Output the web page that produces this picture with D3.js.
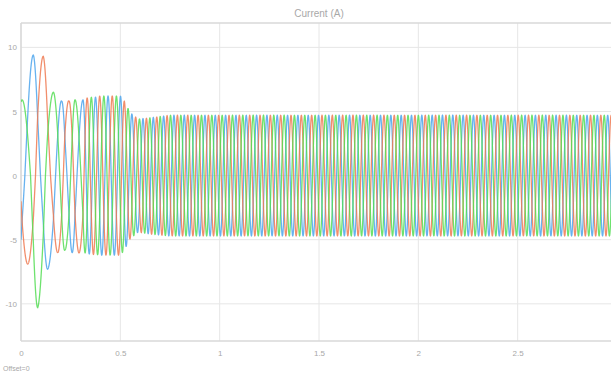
<!DOCTYPE html>
<html><head><meta charset="utf-8">
<script src="https://cdn.jsdelivr.net/npm/d3@7"></script>
<style>
body{margin:0;background:#fff;}
svg{display:block;font-family:"Liberation Sans",Arial,sans-serif;}
</style>
</head><body>
<svg id="chart" width="611" height="376"></svg>
<script>
// ---- data ----
const title = "Current (A)";
const offsetLabel = "Offset=0";
const xGridTicks = [0, 0.5, 1, 1.5, 2, 2.5, 3];
const xTicks = [0, 0.5, 1, 1.5, 2, 2.5];
const xTickLabels = ["0", "0.5", "1", "1.5", "2", "2.5"];
const yTicks = [-10, -5, 0, 5, 10];
const yTickLabels = ["-10", "-5", "0", "5", "10"];
const seriesNames = ["Phase A", "Phase B", "Phase C"];
const seriesColors = ["#4ca4ec", "#ee7a52", "#55dd55"];

// electrical angle of phase A (in cycles, 0 = positive peak) at read times
const phaseTime   = [0, 0.005, 0.034, 0.062, 0.084, 0.112, 0.134, 0.163, 0.185, 0.205, 0.221, 0.242, 0.258, 0.272, 0.312, 0.5, 0.6, 3.0];
const phaseCycles = [-0.37, -0.333, -0.167, 0, 0.167, 0.333, 0.5, 0.667, 0.833, 1, 1.167, 1.333, 1.5, 1.667, 2, 4.98, 6.73, 52.9];

// peak envelopes (A) read at these times
const envTime = [0, 0.005, 0.034, 0.062, 0.084, 0.112, 0.134, 0.163, 0.185, 0.205, 0.221, 0.242, 0.258, 0.272, 0.312, 0.4, 0.5, 0.52, 0.55, 0.59, 0.65, 0.75, 3.0];
const upperA = [9.4, 9.4, 9.4, 9.4, 8.85, 8.14, 7.59, 6.86, 6.3, 5.8, 5.81, 5.83, 5.85, 5.86, 5.9, 6.2, 6.2, 5.8, 4.9, 4.4, 4.5, 4.7, 4.7];
const lowerA = [7.3, 7.3, 7.3, 7.3, 7.3, 7.3, 7.3, 7.0, 6.77, 6.56, 6.39, 6.17, 6.0, 6.0, 6.05, 6.2, 6.2, 5.8, 4.9, 4.4, 4.55, 4.7, 4.7];
const upperB = [9.3, 9.3, 9.3, 9.3, 9.3, 9.3, 8.7, 7.93, 7.34, 6.8, 6.37, 5.8, 5.85, 5.9, 6.0, 6.2, 6.2, 5.8, 4.9, 4.4, 4.5, 4.7, 4.7];
const lowerB = [6.9, 6.9, 6.9, 6.73, 6.6, 6.43, 6.3, 6.13, 6.0, 6.0, 6.0, 6.0, 6.0, 6.0, 6.05, 6.2, 6.2, 5.8, 4.9, 4.4, 4.55, 4.7, 4.7];
const upperC = [5.9, 5.9, 6.0, 6.12, 6.2, 6.3, 6.4, 6.5, 6.38, 6.27, 6.18, 6.07, 5.98, 5.9, 6.0, 6.2, 6.2, 5.8, 4.9, 4.4, 4.5, 4.7, 4.7];
const lowerC = [10.3, 10.3, 10.3, 10.3, 10.3, 9.38, 8.66, 7.7, 6.98, 6.33, 5.8, 5.85, 5.88, 5.9, 6.0, 6.2, 6.2, 5.8, 4.9, 4.4, 4.55, 4.7, 4.7];

// ---- drawing ----
const W = 611, H = 376;
const svg = d3.select("#chart");
const x = d3.scaleLinear().domain([0, 3]).range([21, 617]);
const y = d3.scaleLinear().domain([-12.9, 11.9]).range([341, 23]);

const phaseAt = d3.scaleLinear().domain(phaseTime).range(phaseCycles).clamp(true);
const env = arr => d3.scaleLinear().domain(envTime).range(arr).clamp(true);
const envs = [[env(upperA), env(lowerA)], [env(upperB), env(lowerB)], [env(upperC), env(lowerC)]];

// grid
const grid = svg.append("g");
grid.selectAll("line.v").data(xGridTicks).join("line")
  .attr("x1", d => x(d)).attr("x2", d => x(d)).attr("y1", y.range()[1]).attr("y2", y.range()[0])
  .attr("stroke", "#e6e6e6").attr("stroke-width", 1);
grid.selectAll("line.h").data(yTicks).join("line")
  .attr("x1", x.range()[0]).attr("x2", W).attr("y1", d => y(d)).attr("y2", d => y(d))
  .attr("stroke", "#e6e6e6").attr("stroke-width", 1);

// frame
const frame = svg.append("g").attr("stroke", "#d9d9d9").attr("stroke-width", 1.5);
frame.append("line").attr("x1", x.range()[0]).attr("x2", W).attr("y1", y.range()[1]).attr("y2", y.range()[1]);
frame.append("line").attr("x1", x.range()[0]).attr("x2", W).attr("y1", y.range()[0]).attr("y2", y.range()[0]);
frame.append("line").attr("x1", x.range()[0]).attr("x2", x.range()[0]).attr("y1", y.range()[1]).attr("y2", y.range()[0]);

// axes (labels only)
const xAxis = svg.append("g").attr("transform", `translate(0,${y.range()[0]})`)
  .call(d3.axisBottom(x).tickValues(xTicks).tickFormat((d, i) => xTickLabels[i]).tickSize(0).tickPadding(9));
const yAxis = svg.append("g").attr("transform", `translate(${x.range()[0]},0)`)
  .call(d3.axisLeft(y).tickValues(yTicks).tickFormat((d, i) => yTickLabels[i]).tickSize(0).tickPadding(4));
[xAxis, yAxis].forEach(a => {
  a.select(".domain").remove();
  a.selectAll("text").attr("fill", "#a8a8a8").style("font-size", "8px");
});

// clip
svg.append("clipPath").attr("id", "clip").append("rect")
  .attr("x", x.range()[0]).attr("y", y.range()[1]).attr("width", 620).attr("height", y.range()[0] - y.range()[1]);

// waveforms
const samples = d3.range(0, 3.0001, 0.0005);
const line = d3.line().x(d => x(d[0])).y(d => y(d[1]));
const plot = svg.append("g").attr("clip-path", "url(#clip)");
seriesNames.forEach((name, k) => {
  const pts = samples.map(t => {
    const c = Math.cos(2 * Math.PI * (phaseAt(t) - k / 3));
    const v = c >= 0 ? envs[k][0](t) * c : envs[k][1](t) * c;
    return [t, v];
  });
  plot.append("path").datum(pts).attr("d", line)
    .attr("fill", "none").attr("stroke", seriesColors[k]).attr("stroke-width", 1.3)
    .attr("stroke-opacity", 0.85);
});

// title and offset label
svg.append("text").attr("x", (x.range()[0] + x.range()[1]) / 2).attr("y", 17)
  .attr("text-anchor", "middle").attr("fill", "#a8a8a8").style("font-size", "10px").text(title);
svg.append("text").attr("x", 3).attr("y", 371)
  .attr("fill", "#a8a8a8").style("font-size", "7px").text(offsetLabel);
</script>
</body></html>
